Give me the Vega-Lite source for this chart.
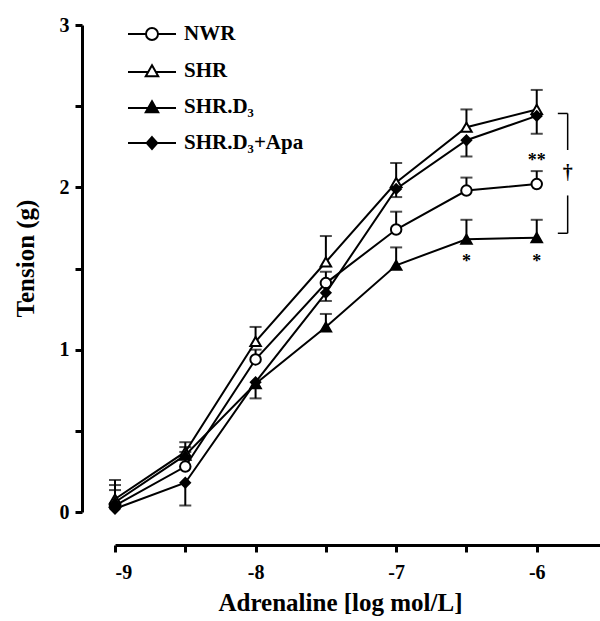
{
  "$schema": "https://vega.github.io/schema/vega-lite/v6.json",
  "width": 485,
  "height": 487,
  "autosize": {"type": "none"},
  "padding": {"left": 115, "top": 25, "right": 0, "bottom": 109},
  "background": "white",
  "datasets": {
    "main": [
      {"x": -9, "y": 0.04, "err": 0.135, "group": "NWR"},
      {"x": -8.5, "y": 0.28, "err": 0.37, "group": "NWR"},
      {"x": -8, "y": 0.94, "err": 1.0, "group": "NWR"},
      {"x": -7.5, "y": 1.41, "err": 1.48, "group": "NWR"},
      {"x": -7, "y": 1.74, "err": 1.85, "group": "NWR"},
      {"x": -6.5, "y": 1.98, "err": 2.06, "group": "NWR"},
      {"x": -6, "y": 2.02, "err": 2.1, "group": "NWR"},
      {"x": -9, "y": 0.08, "err": 0.197, "group": "SHR"},
      {"x": -8.5, "y": 0.37, "err": 0.43, "group": "SHR"},
      {"x": -8, "y": 1.05, "err": 1.14, "group": "SHR"},
      {"x": -7.5, "y": 1.54, "err": 1.7, "group": "SHR"},
      {"x": -7, "y": 2.03, "err": 2.15, "group": "SHR"},
      {"x": -6.5, "y": 2.37, "err": 2.48, "group": "SHR"},
      {"x": -6, "y": 2.48, "err": 2.6, "group": "SHR"},
      {"x": -9, "y": 0.06, "err": 0.166, "group": "SHR.D₃"},
      {"x": -8.5, "y": 0.35, "err": 0.4, "group": "SHR.D₃"},
      {"x": -8, "y": 0.79, "err": null, "group": "SHR.D₃"},
      {"x": -7.5, "y": 1.14, "err": 1.22, "group": "SHR.D₃"},
      {"x": -7, "y": 1.52, "err": 1.63, "group": "SHR.D₃"},
      {"x": -6.5, "y": 1.68, "err": 1.8, "group": "SHR.D₃"},
      {"x": -6, "y": 1.69, "err": 1.8, "group": "SHR.D₃"},
      {"x": -9, "y": 0.02, "err": null, "group": "SHR.D₃+Apa"},
      {"x": -8.5, "y": 0.18, "err": 0.04, "group": "SHR.D₃+Apa"},
      {"x": -8, "y": 0.8, "err": 0.7, "group": "SHR.D₃+Apa"},
      {"x": -7.5, "y": 1.35, "err": 1.3, "group": "SHR.D₃+Apa"},
      {"x": -7, "y": 1.99, "err": 1.94, "group": "SHR.D₃+Apa"},
      {"x": -6.5, "y": 2.29, "err": 2.19, "group": "SHR.D₃+Apa"},
      {"x": -6, "y": 2.44, "err": 2.33, "group": "SHR.D₃+Apa"}
    ],
    "notes": [
      {"x": -6, "y": 2.18, "t": "**"},
      {"x": -6.5, "y": 1.56, "t": "*"},
      {"x": -6, "y": 1.56, "t": "*"}
    ],
    "bracket": [
      {"x": -5.78, "x2": -5.78, "y": 2.455, "y2": 2.23},
      {"x": -5.78, "x2": -5.78, "y": 1.95, "y2": 1.717},
      {"x": -5.85, "x2": -5.78, "y": 2.455, "y2": 2.455},
      {"x": -5.85, "x2": -5.78, "y": 1.717, "y2": 1.717}
    ],
    "dagger": [
      {"x": -5.78, "y": 2.09, "t": "†"}
    ]
  },
  "layer": [
    {
      "data": {"name": "main"},
      "mark": {"type": "line", "color": "black", "strokeWidth": 2},
      "encoding": {
        "x": {
          "field": "x", "type": "quantitative",
          "scale": {"domain": [-9, -5.55], "nice": false, "zero": false},
          "axis": {
            "values": [-9, -8.5, -8, -7.5, -7, -6.5, -6],
            "labelExpr": "datum.value % 1 === 0 ? '-' + abs(datum.value) : ''",
            "offset": 33,
            "title": "Adrenaline [log mol/L]",
            "titleX": 225,
            "labelPadding": 10,
            "titlePadding": 8
          }
        },
        "y": {
          "field": "y", "type": "quantitative",
          "scale": {"domain": [0, 3], "nice": false},
          "axis": {
            "values": [0, 0.5, 1, 1.5, 2, 2.5, 3],
            "labelExpr": "datum.value % 1 === 0 ? toString(datum.value) : ''",
            "offset": 33,
            "title": "Tension (g)",
            "titleY": 233,
            "labelPadding": 6,
            "titlePadding": 21
          }
        },
        "detail": {"field": "group"}
      }
    },
    {
      "data": {"name": "main"},
      "transform": [{"filter": "isValid(datum.err)"}],
      "mark": {"type": "rule", "color": "black", "strokeWidth": 2},
      "encoding": {
        "x": {"field": "x", "type": "quantitative"},
        "y": {"field": "y", "type": "quantitative"},
        "y2": {"field": "err"}
      }
    },
    {
      "data": {"name": "main"},
      "transform": [{"filter": "isValid(datum.err)"}],
      "mark": {"type": "tick", "orient": "horizontal", "color": "black", "size": 12, "thickness": 2},
      "encoding": {
        "x": {"field": "x", "type": "quantitative"},
        "y": {"field": "err", "type": "quantitative"}
      }
    },
    {
      "data": {"name": "main"},
      "mark": {"type": "point", "stroke": "black", "strokeWidth": 2, "opacity": 0},
      "encoding": {
        "x": {"field": "x", "type": "quantitative"},
        "y": {"field": "y", "type": "quantitative"},
        "shape": {
          "field": "group", "type": "nominal",
          "scale": {"domain": ["NWR", "SHR", "SHR.D₃", "SHR.D₃+Apa"],
            "range": [
              "M-2.5,0H-0.625M0.625,0H2.5M0.625,0A0.625,0.625,0,1,1,-0.625,0A0.625,0.625,0,1,1,0.625,0Z",
              "M-2.5,0.1H-0.36M0.36,0.1H2.5M0,-0.6L0.65,0.55L-0.65,0.55Z",
              "M-2.5,0.1H2.5M0,-0.6L0.65,0.55L-0.65,0.55Z",
              "M-2.5,0H2.5M0,-0.62L0.55,0L0,0.62L-0.55,0Z"
            ]},
          "legend": {
            "title": null,
            "orient": "none",
            "legendX": 26,
            "legendY": -2,
            "symbolSize": 369,
            "symbolOpacity": 1,
            "symbolStrokeWidth": 2,
            "symbolStrokeColor": "black",
            "labelFont": "Liberation Serif",
            "labelFontWeight": "bold",
            "labelFontSize": 21,
            "labelColor": "black",
            "labelOffset": 21,
            "rowPadding": 15,
            "labelLimit": 300,
            "encode": {"symbols": {"update": {"opacity": {"value": 1}, "stroke": {"value": "black"}, "strokeWidth": {"value": 2}}}}
          }
        },
        "fill": {
          "field": "group", "type": "nominal",
          "scale": {"domain": ["NWR", "SHR", "SHR.D₃", "SHR.D₃+Apa"], "range": ["white", "white", "black", "black"]},
          "legend": {
            "title": null,
            "orient": "none",
            "legendX": 26,
            "legendY": -2,
            "symbolSize": 369,
            "symbolOpacity": 1,
            "symbolStrokeWidth": 2,
            "symbolStrokeColor": "black",
            "labelFont": "Liberation Serif",
            "labelFontWeight": "bold",
            "labelFontSize": 21,
            "labelColor": "black",
            "labelOffset": 21,
            "rowPadding": 15,
            "labelLimit": 300,
            "encode": {"symbols": {"update": {"opacity": {"value": 1}, "stroke": {"value": "black"}, "strokeWidth": {"value": 2}}}}
          }
        }
      }
    },
    {
      "data": {"name": "main"},
      "transform": [{"filter": "datum.group === 'NWR'"}],
      "mark": {"type": "point", "shape": "circle", "fill": "white", "stroke": "black", "strokeWidth": 2, "size": 110, "opacity": 1},
      "encoding": {
        "x": {"field": "x", "type": "quantitative"},
        "y": {"field": "y", "type": "quantitative"}
      }
    },
    {
      "data": {"name": "main"},
      "transform": [{"filter": "datum.group === 'SHR'"}],
      "mark": {"type": "point", "shape": "triangle-up", "fill": "white", "stroke": "black", "strokeWidth": 2, "size": 110, "opacity": 1},
      "encoding": {
        "x": {"field": "x", "type": "quantitative"},
        "y": {"field": "y", "type": "quantitative"}
      }
    },
    {
      "data": {"name": "main"},
      "transform": [{"filter": "datum.group === 'SHR.D₃'"}],
      "mark": {"type": "point", "shape": "triangle-up", "fill": "black", "stroke": "black", "strokeWidth": 2, "size": 110, "opacity": 1},
      "encoding": {
        "x": {"field": "x", "type": "quantitative"},
        "y": {"field": "y", "type": "quantitative"}
      }
    },
    {
      "data": {"name": "main"},
      "transform": [{"filter": "datum.group === 'SHR.D₃+Apa'"}],
      "mark": {"type": "point", "shape": "diamond", "fill": "black", "stroke": "black", "strokeWidth": 2, "size": 90, "opacity": 1},
      "encoding": {
        "x": {"field": "x", "type": "quantitative"},
        "y": {"field": "y", "type": "quantitative"}
      }
    },
    {
      "data": {"name": "notes"},
      "mark": {"type": "text", "font": "Liberation Serif", "fontWeight": "bold", "fontSize": 18, "fill": "black", "baseline": "middle", "dy": 3},
      "encoding": {
        "x": {"field": "x", "type": "quantitative"},
        "y": {"field": "y", "type": "quantitative"},
        "text": {"field": "t"}
      }
    },
    {
      "data": {"name": "bracket"},
      "mark": {"type": "rule", "color": "black", "strokeWidth": 1.5},
      "encoding": {
        "x": {"field": "x", "type": "quantitative"},
        "x2": {"field": "x2"},
        "y": {"field": "y", "type": "quantitative"},
        "y2": {"field": "y2"}
      }
    },
    {
      "data": {"name": "dagger"},
      "mark": {"type": "text", "font": "Liberation Serif", "fontWeight": "bold", "fontSize": 20, "fill": "black", "baseline": "middle"},
      "encoding": {
        "x": {"field": "x", "type": "quantitative"},
        "y": {"field": "y", "type": "quantitative"},
        "text": {"field": "t"}
      }
    }
  ],
  "config": {
    "view": {"stroke": null},
    "axis": {
      "grid": false,
      "domainColor": "black",
      "domainWidth": 3,
      "tickColor": "black",
      "tickWidth": 3,
      "tickSize": 7,
      "labelFont": "Liberation Serif",
      "labelFontWeight": "bold",
      "labelFontSize": 20,
      "labelColor": "black",
      "titleFont": "Liberation Serif",
      "titleFontWeight": "bold",
      "titleFontSize": 25,
      "titleColor": "black"
    }
  }
}
